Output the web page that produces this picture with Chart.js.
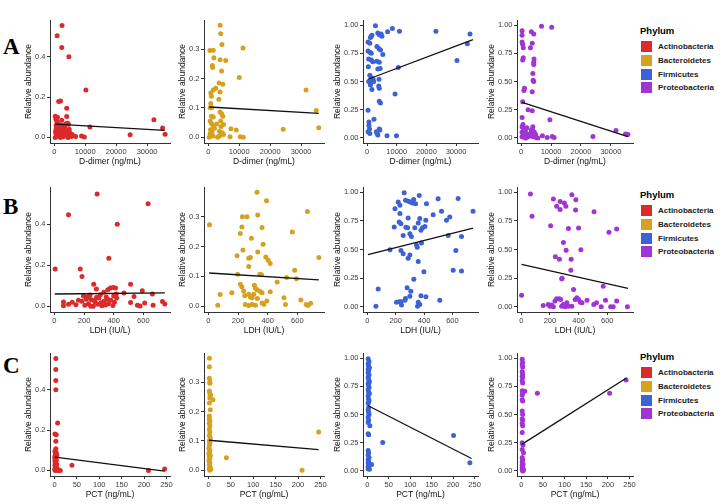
<!DOCTYPE html>
<html>
<head>
<meta charset="utf-8">
<script src="https://cdn.jsdelivr.net/npm/chart.js@4.4.1/dist/chart.umd.min.js"></script>
<style>
  body { margin: 0; background: #fff; }
  #fig { position: relative; width: 722px; height: 504px; overflow: hidden; background: #fff;
         font-family: "Liberation Sans", Arial, sans-serif; }
  #fig canvas { position: absolute; }
  .letter { position: absolute; left: 3px; font-family: "Liberation Serif", "Times New Roman", serif;
            font-weight: bold; font-size: 23px; line-height: 1; color: #000; }
  .legend { position: absolute; left: 640px; }
  .legend .ttl { font-weight: bold; font-size: 9.5px; color: #000; height: 12px; line-height: 12px; margin-bottom: 3px; }
  .legend .row { display: flex; align-items: center; height: 13.7px; }
  .legend .key { width: 13px; height: 13px; box-sizing: border-box; border: 0.5px solid #fff; }
  .legend .lab { margin-left: 5px; font-weight: bold; font-size: 8px; color: #1a1a1a; }
</style>
</head>
<body>
<div id="fig"></div>
<script>
// ---- categories / labels ----
const phyla = ['Actinobacteria', 'Bacteroidetes', 'Firmicutes', 'Proteobacteria'];
const phylaColors = ['#DB2A2A', '#D6A11F', '#3C62D6', '#A035D4'];
const rowLetters = ['A', 'B', 'C'];
const xTitles = ['D-dimer (ng/mL)', 'LDH (IU/L)', 'PCT (ng/mL)'];
const yTitle = 'Relative abundance';

// ---- tick labels ----
const xTicksDdimer = [0, 10000, 20000, 30000];
const xTicksLdh = [0, 200, 400, 600];
const xTicksPct = [0, 50, 100, 150, 200, 250];
const yTicksAct = [0, 0.2, 0.4];
const yTicksBac = [0, 0.1, 0.2, 0.3];
const yTicksFrac = [0, 0.25, 0.5, 0.75, 1];

// ---- row A: D-dimer ----
const actDdimer = [[2500,0.554],[900,0.504],[2400,0.446],[4700,0.40],[10200,0.235],[1400,0.178],[2000,0.181],[4000,0.144],[300,0.105],[4000,0.104],[32200,0.087],[11500,0.051],[35000,0.046],[24500,0.013],[35800,0.016],
  [500,0.09],[800,0.08],[1200,0.07],[600,0.06],[1500,0.05],[2200,0.04],[900,0.035],[400,0.03],[1800,0.025],[2600,0.02],[700,0.015],[1100,0.01],[1600,0.005],[300,0.0],[2000,0.0],[2800,0.003],[3300,0.008],[3600,0.02],[4100,0.03],[4300,0.07],[3800,0.068],[4600,0.065],[3500,0.045],[4900,0.025],[5200,0.012],[5500,0.004],[4400,0.0],[6900,0.005],[8800,0.007],[9700,0.002],[3000,0.06],[2400,0.085],[1000,0.1],[500,0.02],[1300,0.04],[3900,0.01],[4800,0.04],[5800,0.015],[600,0.045],[2100,0.06],[3200,0.035]];
const bacDdimer = [[3800,0.382],[4000,0.353],[4400,0.316],[500,0.296],[1600,0.297],[11200,0.304],[1800,0.271],[3800,0.264],[5600,0.262],[1300,0.245],[1400,0.238],[4300,0.226],[10000,0.204],[3500,0.185],[4700,0.181],[2400,0.167],[1600,0.161],[800,0.151],[3800,0.154],[1000,0.14],[3400,0.129],[800,0.115],[31600,0.161],[34900,0.091],[600,0.1],[1100,0.1],[3800,0.086],[4300,0.08],[1000,0.071],[1600,0.069],[4700,0.071],[600,0.055],[1000,0.047],[1500,0.04],[4900,0.043],[4100,0.036],[7300,0.029],[9000,0.024],[24200,0.027],[35700,0.032],[600,0.012],[1500,0.004],[3300,0.002],[3800,0.006],[4900,0.009],[7000,0.001],[10300,0.001],[11300,0.0],[700,0.025],[2000,0.03],[3600,0.02],[4500,0.015],[300,0.0],[1200,0.018],[2700,0.045],[4000,0.055],[3000,0.0]];
const firDdimer = [[2800,0.994],[8500,0.97],[6900,0.94],[10900,0.945],[23200,0.945],[34700,0.92],[3600,0.93],[4700,0.92],[5000,0.90],[4100,0.915],[1400,0.90],[1600,0.91],[1100,0.89],[300,0.85],[900,0.84],[33800,0.835],[3300,0.81],[4000,0.79],[4500,0.78],[300,0.77],[900,0.76],[1400,0.75],[5300,0.74],[500,0.70],[1400,0.69],[1900,0.675],[3300,0.68],[4100,0.67],[30300,0.685],[3600,0.61],[4400,0.615],[400,0.63],[10500,0.625],[900,0.555],[1400,0.535],[2000,0.52],[4000,0.52],[500,0.5],[1400,0.5],[2200,0.5],[3900,0.46],[4100,0.44],[1100,0.47],[1600,0.43],[9400,0.39],[4100,0.325],[4500,0.31],[300,0.245],[2300,0.165],[600,0.14],[600,0.11],[800,0.08],[4100,0.08],[4300,0.07],[3100,0.055],[3400,0.04],[3600,0.025],[300,0.055],[900,0.04],[6700,0.02],[9900,0.02]];
const proDdimer = [[6800,0.99],[10200,0.98],[300,0.95],[300,0.91],[3400,0.94],[4200,0.92],[300,0.85],[500,0.83],[700,0.80],[3700,0.84],[3100,0.80],[700,0.71],[500,0.69],[4300,0.70],[4200,0.67],[4200,0.65],[3900,0.57],[4000,0.51],[4200,0.50],[1100,0.44],[900,0.42],[3700,0.41],[500,0.32],[2300,0.25],[3700,0.24],[300,0.18],[9600,0.16],[31700,0.065],[34900,0.035],[35700,0.03],[24000,0.012],[7100,0.02],[8700,0.003],[11000,0.003],[10400,0.012],
  [300,0.1],[600,0.09],[1000,0.08],[1400,0.06],[300,0.05],[800,0.04],[1700,0.03],[2500,0.02],[300,0.01],[900,0.005],[1500,0.0],[2200,0.008],[3000,0.04],[3400,0.07],[3700,0.075],[4000,0.06],[4400,0.05],[4800,0.03],[3600,0.015],[4200,0.01],[5000,0.004],[5600,0.0],[600,0.12],[1900,0.09],[3900,0.1],[2700,0.03],[1200,0.015]];

// ---- row B: LDH ----
const actLdh = [[288,0.548],[632,0.5],[95,0.447],[424,0.4],[367,0.234],[5,0.182],[174,0.182],[186,0.145],[265,0.108],[514,0.108],[378,0.089],[396,0.092],[412,0.089],[283,0.084],[360,0.081],[593,0.076],[469,0.065],[333,0.068],[310,0.056],[661,0.06],[196,0.05],[218,0.045],[240,0.055],[417,0.06],[537,0.048],[729,0.024],[514,0.019],[609,0.016],[61,0.021],[61,0.003],[560,0.005],[578,0.002],[666,0.005],[745,0.011],
  [95,0.01],[120,0.02],[145,0.008],[162,0.03],[185,0.025],[205,0.005],[230,0.012],[250,0.032],[262,0.0],[275,0.02],[292,0.01],[300,0.04],[320,0.003],[335,0.025],[350,0.045],[365,0.012],[380,0.03],[395,0.004],[405,0.02],[420,0.04],[215,0.035],[245,0.0],[270,0.028],[315,0.018],[345,0.007],[360,0.035],[230,0.042],[285,0.044],[400,0.05]];
const bacLdh = [[328,0.382],[392,0.354],[668,0.318],[229,0.3],[260,0.3],[333,0.306],[7,0.273],[226,0.266],[362,0.264],[566,0.249],[215,0.244],[290,0.228],[369,0.208],[233,0.188],[333,0.182],[745,0.163],[193,0.169],[272,0.161],[283,0.163],[387,0.165],[403,0.154],[417,0.143],[272,0.133],[197,0.107],[347,0.107],[358,0.105],[582,0.12],[464,0.081],[594,0.092],[528,0.096],[79,0.039],[158,0.045],[63,0.003],[215,0.073],[226,0.064],[238,0.05],[317,0.06],[328,0.055],[347,0.05],[362,0.045],[272,0.04],[283,0.03],[295,0.028],[306,0.04],[417,0.048],[510,0.028],[520,0.005],[394,0.017],[362,0.01],[374,0.006],[249,0.005],[272,0.002],[295,0.005],[317,0.003],[624,0.02],[660,0.005],[672,0.002],[690,0.009],[245,0.035],[310,0.07],[330,0.025]];
const firLdh = [[260,0.994],[366,0.97],[640,0.945],[499,0.942],[270,0.93],[290,0.92],[305,0.915],[318,0.905],[327,0.935],[340,0.9],[218,0.915],[417,0.9],[230,0.886],[195,0.855],[523,0.833],[745,0.833],[230,0.813],[464,0.804],[581,0.784],[288,0.775],[370,0.77],[412,0.754],[558,0.754],[225,0.74],[237,0.725],[359,0.73],[190,0.696],[272,0.695],[284,0.69],[335,0.69],[389,0.69],[406,0.70],[378,0.667],[300,0.637],[253,0.623],[311,0.614],[570,0.623],[664,0.614],[382,0.556],[347,0.54],[352,0.52],[160,0.497],[237,0.491],[253,0.462],[300,0.453],[288,0.424],[624,0.491],[359,0.395],[399,0.307],[605,0.32],[664,0.313],[328,0.24],[77,0.155],[281,0.167],[307,0.137],[378,0.096],[413,0.088],[511,0.058],[300,0.093],[269,0.073],[265,0.058],[237,0.044],[206,0.04],[225,0.045],[241,0.015],[359,0.04],[370,0.02],[354,0.006],[61,0.006]];
const proLdh = [[64,0.985],[353,0.977],[224,0.94],[381,0.933],[271,0.918],[301,0.906],[247,0.877],[271,0.848],[311,0.877],[379,0.845],[508,0.83],[75,0.79],[205,0.708],[329,0.684],[400,0.687],[612,0.65],[666,0.678],[294,0.56],[313,0.494],[416,0.497],[238,0.436],[266,0.415],[348,0.415],[346,0.32],[282,0.245],[285,0.25],[365,0.152],[572,0.18],[2,0.1],
  [153,0.012],[188,0.02],[200,0.006],[212,0.015],[224,0.0],[235,0.05],[247,0.07],[266,0.07],[275,0.064],[282,0.006],[294,0.02],[306,0.0],[318,0.035],[329,0.006],[353,0.006],[376,0.064],[388,0.079],[400,0.064],[412,0.041],[424,0.035],[459,0.058],[506,0.02],[525,0.035],[558,0.0],[588,0.058],[624,0.0],[642,0.0],[666,0.05],[741,0.0]];

// ---- row C: PCT ----
const actPct = [[3,0.554],[3,0.5],[3,0.446],[3,0.4],[7,0.235],[1,0.18],[4,0.177],[3,0.145],[3,0.107],[1,0.095],[4,0.088],[2,0.08],[5,0.075],[1,0.068],[3,0.062],[2,0.055],[4,0.05],[1,0.045],[3,0.04],[2,0.035],[5,0.03],[1,0.025],[3,0.02],[2,0.015],[4,0.012],[1,0.008],[3,0.005],[6,0.003],[2,0.0],[8,0.0],[13,0.0],[39,0.025],[210,0.0],[246,0.007],[1,0.06],[2,0.072],[6,0.01],[4,0.028],[1,0.002]];
const bacPct = [[2,0.382],[2,0.353],[2,0.314],[3,0.302],[3,0.297],[2,0.27],[3,0.26],[5,0.257],[3,0.246],[10,0.24],[2,0.229],[4,0.206],[2,0.185],[2,0.175],[3,0.168],[2,0.16],[3,0.152],[2,0.14],[3,0.13],[2,0.118],[4,0.11],[2,0.1],[3,0.092],[2,0.085],[1,0.075],[3,0.068],[2,0.06],[4,0.05],[2,0.045],[3,0.04],[1,0.032],[3,0.025],[2,0.018],[4,0.01],[2,0.005],[3,0.0],[246,0.13],[40,0.042],[209,0.0],[5,0.003],[1,0.055]];
const firPct = [[2,0.994],[4,0.97],[2,0.95],[3,0.93],[5,0.915],[2,0.9],[3,0.885],[2,0.87],[4,0.85],[2,0.83],[3,0.81],[5,0.79],[2,0.775],[3,0.76],[4,0.74],[2,0.72],[3,0.7],[5,0.685],[2,0.665],[3,0.635],[4,0.62],[2,0.6],[3,0.56],[2,0.54],[3,0.52],[4,0.5],[2,0.475],[3,0.45],[2,0.43],[6,0.4],[2,0.33],[3,0.32],[2,0.18],[3,0.16],[2,0.14],[4,0.12],[2,0.1],[3,0.085],[2,0.07],[4,0.055],[2,0.04],[3,0.03],[2,0.02],[5,0.015],[10,0.058],[36,0.252],[201,0.313],[239,0.072]];
const proPct = [[2,0.99],[3,0.96],[2,0.94],[3,0.92],[2,0.88],[3,0.86],[2,0.84],[3,0.83],[2,0.8],[3,0.78],[2,0.71],[3,0.69],[2,0.67],[8,0.706],[37,0.688],[204,0.688],[242,0.806],[2,0.63],[3,0.62],[2,0.53],[3,0.5],[2,0.46],[3,0.45],[2,0.42],[3,0.4],[2,0.34],[2,0.25],[3,0.24],[4,0.23],[2,0.19],[5,0.16],[2,0.12],[3,0.1],[2,0.08],[4,0.06],[2,0.05],[3,0.04],[2,0.03],[4,0.02],[2,0.01],[3,0.0],[5,0.005]];

// ---- fitted lines (ends) ----
const fitActDdimer = [[300,0.066],[35700,0.035]];
const fitBacDdimer = [[300,0.103],[35700,0.081]];
const fitFirDdimer = [[300,0.52],[35700,0.872]];
const fitProDdimer = [[300,0.315],[35700,0.012]];
const fitActLdh = [[2,0.06],[745,0.066]];
const fitBacLdh = [[5,0.111],[745,0.088]];
const fitFirLdh = [[5,0.455],[745,0.687]];
const fitProLdh = [[2,0.371],[745,0.161]];
const fitActPct = [[1,0.066],[246,-0.004]];
const fitBacPct = [[1,0.102],[246,0.07]];
const fitFirPct = [[1,0.58],[243,0.11]];
const fitProPct = [[1,0.235],[243,0.824]];

const points = [
  [actDdimer, bacDdimer, firDdimer, proDdimer],
  [actLdh, bacLdh, firLdh, proLdh],
  [actPct, bacPct, firPct, proPct]
];
const fits = [
  [fitActDdimer, fitBacDdimer, fitFirDdimer, fitProDdimer],
  [fitActLdh, fitBacLdh, fitFirLdh, fitProLdh],
  [fitActPct, fitBacPct, fitFirPct, fitProPct]
];

// layout of the grid
const plotLeft = [50, 204, 363, 517];
const plotRight = [170, 324, 478, 633];
const plotTop = [20, 187, 353];
const plotBottom = [143, 312, 476];
const letterTop = [35, 195, 354];
const legendTop = [25, 189, 351];
const xTicksByRow = [xTicksDdimer, xTicksLdh, xTicksPct];
const xRangeByRow = [[-1400, 37400], [-30, 780], [-10, 258]];
const yTicksByCol = [yTicksAct, yTicksBac, yTicksFrac, yTicksFrac];
const yDecByCol = [1, 1, 2, 2];
const yRangeByCol = [[-0.0277, 0.5817], [-0.02, 0.4], [-0.045, 1.045], [-0.045, 1.045]];
const yTitlePad = [6, 6, 2, 2];

const YW = 32, PT = 6, PR = 6, XH = 24;
const fig = document.getElementById('fig');

for (let r = 0; r < 3; r++) {
  const letter = document.createElement('div');
  letter.className = 'letter';
  letter.style.top = letterTop[r] + 'px';
  letter.textContent = rowLetters[r];
  fig.appendChild(letter);

  const leg = document.createElement('div');
  leg.className = 'legend';
  leg.style.top = legendTop[r] + 'px';
  let html = '<div class="ttl">Phylum</div>';
  phyla.forEach((p, i) => {
    html += '<div class="row"><div class="key" style="background:' + phylaColors[i] + '"></div><div class="lab">' + p + '</div></div>';
  });
  leg.innerHTML = html;
  fig.appendChild(leg);

  for (let c = 0; c < 4; c++) {
    const w = plotRight[c] - plotLeft[c] + YW + PR;
    const h = plotBottom[r] - plotTop[r] + PT + XH;
    const cv = document.createElement('canvas');
    cv.width = w; cv.height = h;
    cv.style.left = (plotLeft[c] - YW) + 'px';
    cv.style.top = (plotTop[r] - PT) + 'px';
    cv.style.width = w + 'px'; cv.style.height = h + 'px';
    fig.appendChild(cv);

    const xt = xTicksByRow[r], yt = yTicksByCol[c], dec = yDecByCol[c];
    new Chart(cv.getContext('2d'), {
      type: 'scatter',
      data: {
        datasets: [{
          data: fits[r][c].map(p => ({x: p[0], y: p[1]})),
          showLine: true,
          borderColor: '#111',
          borderWidth: 1.3,
          pointRadius: 0
        }, {
          data: points[r][c].map(p => ({x: p[0], y: p[1]})),
          pointRadius: 2.5,
          pointBackgroundColor: phylaColors[c],
          pointBorderWidth: 0
        }]
      },
      options: {
        responsive: false,
        animation: false,
        devicePixelRatio: 1,
        layout: { padding: { top: PT, right: PR, left: 0, bottom: 0 } },
        plugins: { legend: { display: false }, tooltip: { enabled: false } },
        scales: {
          x: {
            type: 'linear',
            min: xRangeByRow[r][0], max: xRangeByRow[r][1],
            afterBuildTicks: s => { s.ticks = xt.map(v => ({ value: v })); },
            afterFit: s => { s.height = XH; },
            ticks: { font: { size: 7.5, family: 'Liberation Sans' }, color: '#3a3a3a', padding: 1, maxRotation: 0,
                     callback: v => String(v) },
            grid: { drawOnChartArea: false, tickLength: 3, color: '#333' },
            border: { color: '#333', width: 1 },
            title: { display: true, text: xTitles[r], color: '#111',
                     font: { size: 8.5, family: 'Liberation Sans' }, padding: { top: 0, bottom: 0.5 } }
          },
          y: {
            type: 'linear',
            min: yRangeByCol[c][0], max: yRangeByCol[c][1],
            afterBuildTicks: s => { s.ticks = yt.map(v => ({ value: v })); },
            afterFit: s => { s.width = YW; },
            ticks: { font: { size: 7.5, family: 'Liberation Sans' }, color: '#3a3a3a', padding: 1.5,
                     callback: v => Number(v).toFixed(dec) },
            grid: { drawOnChartArea: false, tickLength: 3, color: '#333' },
            border: { color: '#333', width: 1 },
            title: { display: true, text: yTitle, color: '#111',
                     font: { size: 8.5, family: 'Liberation Sans' }, padding: { top: yTitlePad[c], bottom: 0 } }
          }
        }
      }
    });
  }
}
</script>
</body>
</html>
